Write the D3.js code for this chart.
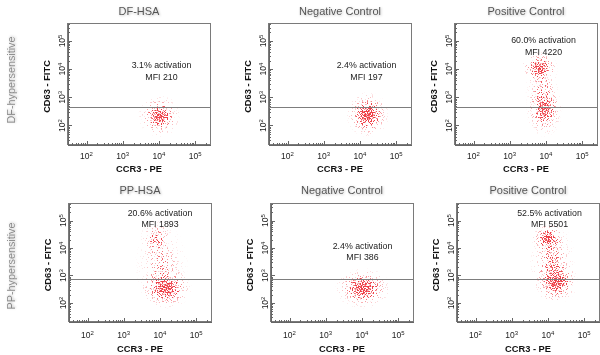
<!DOCTYPE html>
<html lang="en">
<head>
<meta charset="utf-8">
<title>CD63 / CCR3 basophil activation</title>
<script src="https://cdn.jsdelivr.net/npm/d3@7"></script>
<style>
  body { margin: 0; background: #fff; }
  svg { display: block; font-family: "Liberation Sans", Arial, sans-serif; }
  .frame { fill: none; stroke: #7a7a7a; stroke-width: 1px; shape-rendering: crispEdges; }
  .gate { stroke: #7d7d7d; stroke-width: 1px; shape-rendering: crispEdges; }
  .axis path, .axis line { stroke: #666; shape-rendering: crispEdges; }
  .tick-label { font-size: 8.5px; fill: #222; }
  .axis-title { font-size: 9.3px; font-weight: bold; fill: #111; }
  .panel-title { font-size: 11px; fill: #555; }
  .row-label { font-size: 10.8px; fill: #8a8a8a; }
  .note { font-size: 8.8px; fill: #222; }
</style>
</head>
<body>
<div id="chart"></div>
<script>
// ---- data ----
var panelTitles = ['DF-HSA', 'Negative Control', 'Positive Control', 'PP-HSA', 'Negative Control', 'Positive Control'];
var rowLabels = ['DF-hypersensitive', 'PP-hypersensitive'];
var activation = ['3.1%', '2.4%', '60.0%', '20.6%', '2.4%', '52.5%'];
var mfi = [210, 197, 4220, 1893, 386, 5501];
var gateCD63 = [460, 460, 460, 720, 720, 720];
var decadeTicks = [1e2, 1e3, 1e4, 1e5];

// cell clouds: panel, centre (CCR3, CD63), spread in decades, relative density
var clusterPanel = [0, 1, 2, 2, 2, 3, 3, 3, 4, 5, 5, 5];
var clusterCCR3 = [10500, 16500, 6600, 9100, 8000, 14900, 7900, 11000, 10800, 10000, 17300, 13000];
var clusterCD63 = [214, 245, 11200, 370, 1900, 340, 22000, 2500, 340, 22000, 590, 3200];
var clusterSpreadX = [0.2, 0.2, 0.17, 0.17, 0.16, 0.24, 0.15, 0.25, 0.26, 0.15, 0.2, 0.22];
var clusterSpreadY = [0.25, 0.27, 0.19, 0.33, 0.5, 0.25, 0.24, 0.5, 0.25, 0.18, 0.27, 0.5];
var clusterDensity = [0.8, 0.92, 0.8, 0.7, 0.3, 0.85, 0.42, 0.3, 0.85, 0.85, 0.85, 0.4];

// ---- layout ----
var width = 600, height = 355;
var rowTop = [23.5, 203.5], rowH = [121, 118];
var colLeft = [[67.5, 268.5, 454.5], [68.5, 270.5, 456.5]];
var plotW = 143;
var xDomain = [Math.pow(10, 1.475), Math.pow(10, 5.425)];
var yDomain = [Math.pow(10, 1.325), Math.pow(10, 5.62)];
var tickLabelDy = [14.5, 16.5], xTitleDy = [27, 30.5];
var titleY = [15, 194], rowLabelY = [80, 266];
var noteDx = [94, 98, 89, 91.5, 92, 93];
var noteDy = [44.5, 44.5, 19.5, 12, 45, 12];

var svg = d3.select('#chart').append('svg')
    .attr('width', width)
    .attr('height', height);

var defs = svg.append('defs');

// falloff of a cloud of events, with a slightly heavy tail for stray cells
var grad = defs.append('radialGradient').attr('id', 'cloud');
[[0, 1], [0.2, 0.84], [0.4, 0.5], [0.6, 0.22], [0.8, 0.09], [0.95, 0.03], [1, 0]].forEach(function (s) {
    grad.append('stop').attr('offset', s[0]).attr('stop-color', '#fff').attr('stop-opacity', s[1]);
});

// turn the smooth density into single dots
var speckle = defs.append('filter').attr('id', 'speckle')
    .attr('filterUnits', 'userSpaceOnUse')
    .attr('x', 0).attr('y', 0).attr('width', width).attr('height', height)
    .attr('color-interpolation-filters', 'sRGB');
speckle.append('feTurbulence').attr('type', 'fractalNoise').attr('baseFrequency', 0.8)
    .attr('numOctaves', 1).attr('seed', 7).attr('result', 'noise');
speckle.append('feColorMatrix').attr('in', 'noise').attr('type', 'matrix')
    .attr('values', '0 0 0 0 0  0 0 0 0 0  0 0 0 0 0  3.2 0 0 0 -1.1').attr('result', 'grain');
speckle.append('feComposite').attr('in', 'SourceAlpha').attr('in2', 'grain')
    .attr('operator', 'arithmetic').attr('k1', 0).attr('k2', 1).attr('k3', 1).attr('k4', -1)
    .attr('result', 'mix');
speckle.append('feComponentTransfer').attr('in', 'mix').attr('result', 'dots')
    .append('feFuncA').attr('type', 'linear').attr('slope', 3).attr('intercept', 0);
speckle.append('feFlood').attr('flood-color', '#ee2a33').attr('flood-opacity', 0.9).attr('result', 'ink');
speckle.append('feComposite').attr('in', 'ink').attr('in2', 'dots').attr('operator', 'in');

var glow = defs.append('filter').attr('id', 'glow')
    .attr('x', '-10%').attr('y', '-30%').attr('width', '120%').attr('height', '160%');
glow.append('feDropShadow').attr('dx', 0.8).attr('dy', 0.8).attr('stdDeviation', 0.8)
    .attr('flood-color', '#000').attr('flood-opacity', 0.25);

var xs = [], ys = [];
var cloudLayer = svg.append('g').attr('filter', 'url(#speckle)');

panelTitles.forEach(function (title, i) {
    var r = Math.floor(i / 3), c = i % 3;
    var left = colLeft[r][c], top = rowTop[r], h = rowH[r];

    var x = d3.scaleLog().domain(xDomain).range([left, left + plotW]);
    var y = d3.scaleLog().domain(yDomain).range([top + h, top]);
    xs.push(x); ys.push(y);

    defs.append('clipPath').attr('id', 'clip' + i)
        .append('rect').attr('x', left).attr('y', top).attr('width', plotW).attr('height', h);

    // frame
    svg.append('rect').attr('class', 'frame')
        .attr('x', left).attr('y', top).attr('width', plotW).attr('height', h);

    // minor + decade ticks, pointing inwards
    svg.append('g').attr('class', 'axis')
        .attr('transform', 'translate(0,' + (top + h) + ')')
        .call(d3.axisBottom(x).tickValues(x.ticks()).tickSize(-2).tickSizeOuter(0).tickFormat(''));
    svg.append('g').attr('class', 'axis')
        .attr('transform', 'translate(0,' + (top + h) + ')')
        .call(d3.axisBottom(x).tickValues(decadeTicks).tickSize(-4).tickSizeOuter(0).tickFormat(''));
    svg.append('g').attr('class', 'axis')
        .attr('transform', 'translate(' + left + ',0)')
        .call(d3.axisLeft(y).tickValues(y.ticks()).tickSize(-2).tickSizeOuter(0).tickFormat(''));
    svg.append('g').attr('class', 'axis')
        .attr('transform', 'translate(' + left + ',0)')
        .call(d3.axisLeft(y).tickValues(decadeTicks).tickSize(-4).tickSizeOuter(0).tickFormat(''));

    // 10^n labels
    var xl = svg.append('g').selectAll('text').data(decadeTicks).enter().append('text')
        .attr('class', 'tick-label')
        .attr('text-anchor', 'middle')
        .attr('x', function (d) { return x(d); })
        .attr('y', top + h + tickLabelDy[r]);
    xl.append('tspan').text('10');
    xl.append('tspan').attr('dy', '-0.45em').attr('font-size', '6px')
        .text(function (d) { return Math.round(Math.log10(d)); });

    var yl = svg.append('g').selectAll('text').data(decadeTicks).enter().append('text')
        .attr('class', 'tick-label')
        .attr('text-anchor', 'middle')
        .attr('transform', function (d) { return 'translate(' + (left - 2.5) + ',' + y(d) + ') rotate(-90)'; });
    yl.append('tspan').text('10');
    yl.append('tspan').attr('dy', '-0.45em').attr('font-size', '6px')
        .text(function (d) { return Math.round(Math.log10(d)); });

    // axis titles
    svg.append('text').attr('class', 'axis-title')
        .attr('text-anchor', 'middle')
        .attr('x', left + plotW / 2)
        .attr('y', top + h + xTitleDy[r])
        .text('CCR3 - PE');
    svg.append('text').attr('class', 'axis-title')
        .attr('text-anchor', 'middle')
        .attr('transform', 'translate(' + (left - 18) + ',' + (top + h / 2 + 2.5) + ') rotate(-90)')
        .text('CD63 - FITC');

    // panel title
    svg.append('text').attr('class', 'panel-title')
        .attr('text-anchor', 'middle')
        .attr('x', left + plotW / 2)
        .attr('y', titleY[r])
        .attr('filter', 'url(#glow)')
        .text(title);

    // clouds of this panel
    cloudLayer.append('g')
        .attr('clip-path', 'url(#clip' + i + ')')
        .selectAll('ellipse')
        .data(d3.range(clusterPanel.length).filter(function (k) { return clusterPanel[k] === i; }))
        .enter()
        .append('ellipse')
        .attr('cx', function (k) { return x(clusterCCR3[k]); })
        .attr('cy', function (k) { return y(clusterCD63[k]); })
        .attr('rx', function (k) { return x(clusterCCR3[k] * Math.pow(10, 3 * clusterSpreadX[k])) - x(clusterCCR3[k]); })
        .attr('ry', function (k) { return y(clusterCD63[k]) - y(clusterCD63[k] * Math.pow(10, 3 * clusterSpreadY[k])); })
        .attr('fill', 'url(#cloud)')
        .attr('fill-opacity', function (k) { return clusterDensity[k]; });
});

// gates and notes go above the clouds
panelTitles.forEach(function (title, i) {
    var r = Math.floor(i / 3), c = i % 3;
    var left = colLeft[r][c], top = rowTop[r];
    var x = xs[i], y = ys[i];

    svg.append('line').attr('class', 'gate')
        .attr('x1', x.range()[0]).attr('x2', x.range()[1])
        .attr('y1', Math.round(y(gateCD63[i])) + 0.5)
        .attr('y2', Math.round(y(gateCD63[i])) + 0.5);

    svg.append('text').attr('class', 'note')
        .attr('text-anchor', 'middle')
        .attr('x', left + noteDx[i])
        .attr('y', top + noteDy[i])
        .text(activation[i] + ' activation');
    svg.append('text').attr('class', 'note')
        .attr('text-anchor', 'middle')
        .attr('x', left + noteDx[i])
        .attr('y', top + noteDy[i] + 11.5)
        .text('MFI ' + mfi[i]);
});

// row labels
rowLabels.forEach(function (label, r) {
    svg.append('text').attr('class', 'row-label')
        .attr('text-anchor', 'middle')
        .attr('transform', 'translate(15,' + rowLabelY[r] + ') rotate(-90)')
        .attr('filter', 'url(#glow)')
        .text(label);
});
</script>
</body>
</html>
